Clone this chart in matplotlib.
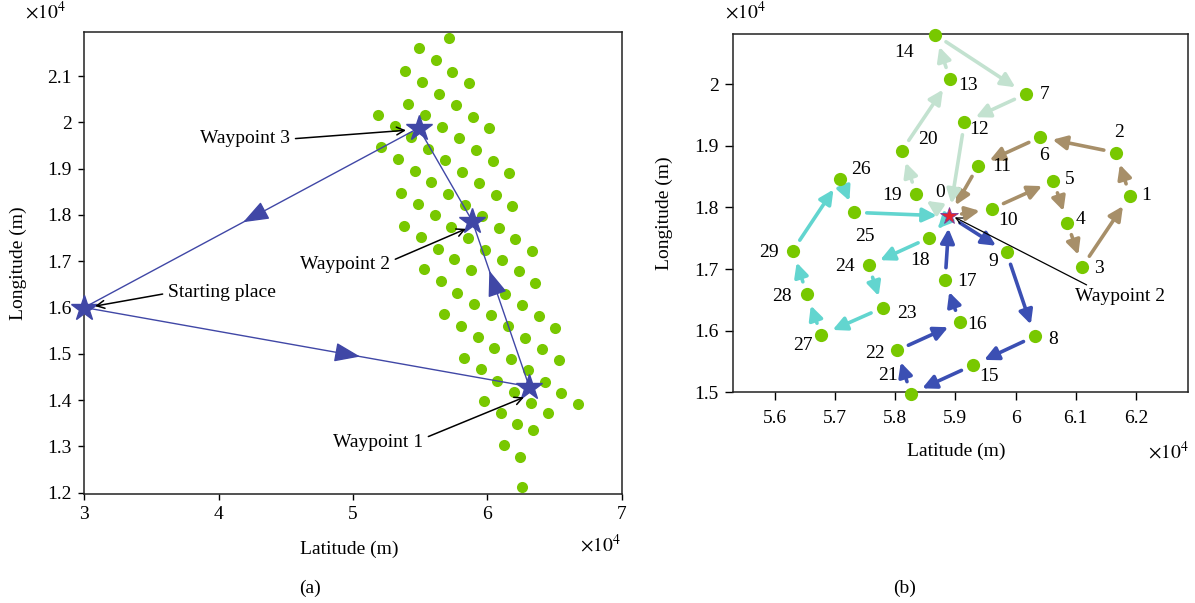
import matplotlib
matplotlib.use("Agg")
import matplotlib.pyplot as plt
import numpy as np
from matplotlib.ticker import FuncFormatter

plt.rcParams['font.family'] = ['Liberation Serif', 'DejaVu Serif']
plt.rcParams['mathtext.fontset'] = 'stix'
plt.rcParams['font.size'] = 14

# ---------- (a) candidate points, units of 1e4 m
grid_lat = [5.715, 5.489, 5.616, 5.387, 5.739, 5.514, 5.866, 5.638, 5.412, 5.764,
            5.184, 5.538, 5.891, 5.310, 5.662, 6.015, 5.434, 5.206, 5.560, 5.787,
            5.913, 5.333, 5.687, 6.040, 5.459, 5.811, 6.163, 5.583, 5.936, 5.355,
            5.709, 6.062, 5.482, 5.834, 6.186, 5.608, 5.960, 5.380, 5.732, 6.085,
            5.504, 5.856, 6.208, 5.630, 5.982, 6.335, 5.754, 6.107, 5.528, 5.881,
            6.233, 5.653, 6.357, 6.129, 5.776, 5.903, 6.256, 5.677, 6.029, 6.382,
            5.802, 6.154, 6.506, 5.928, 6.280, 6.052, 6.405, 5.826, 6.178, 6.531,
            5.951, 6.303, 6.074, 6.427, 6.198, 6.550, 5.975, 6.325, 6.677, 6.099,
            6.449, 6.223, 6.342, 6.122, 6.245, 6.260]
grid_lon = [2.183, 2.160, 2.135, 2.112, 2.109, 2.087, 2.085, 2.062, 2.040, 2.037,
            2.017, 2.015, 2.012, 1.993, 1.990, 1.988, 1.968, 1.946, 1.943, 1.966,
            1.941, 1.921, 1.918, 1.916, 1.896, 1.893, 1.890, 1.871, 1.869, 1.848,
            1.846, 1.844, 1.824, 1.822, 1.819, 1.800, 1.797, 1.777, 1.775, 1.772,
            1.753, 1.750, 1.748, 1.727, 1.725, 1.723, 1.704, 1.702, 1.683, 1.681,
            1.678, 1.657, 1.652, 1.630, 1.632, 1.608, 1.605, 1.586, 1.583, 1.581,
            1.561, 1.559, 1.556, 1.537, 1.534, 1.513, 1.510, 1.491, 1.488, 1.486,
            1.467, 1.464, 1.442, 1.439, 1.418, 1.415, 1.399, 1.393, 1.391, 1.372,
            1.372, 1.348, 1.336, 1.302, 1.277, 1.212]

# flight path: start -> waypoint 1 -> 2 -> 3 -> start
path_lat = [3.0, 6.312, 5.888, 5.489, 3.0]
path_lon = [1.600, 1.429, 1.787, 1.988, 1.600]
path_head_frac = [0.62, 0.70, None, 0.525]

# ---------- (b) numbered nodes, units of 1e4 m
node_lat = [5.890, 6.190, 6.167, 6.111, 6.086, 6.063, 6.041, 6.017, 6.032, 5.985,
            5.961, 5.938, 5.915, 5.891, 5.867, 5.929, 5.907, 5.883, 5.857, 5.835,
            5.811, 5.826, 5.803, 5.779, 5.756, 5.732, 5.709, 5.677, 5.653, 5.630]
node_lon = [1.786, 1.819, 1.889, 1.704, 1.775, 1.843, 1.914, 1.984, 1.591, 1.727,
            1.798, 1.868, 1.938, 2.008, 2.080, 1.544, 1.614, 1.682, 1.751, 1.822,
            1.892, 1.498, 1.568, 1.637, 1.706, 1.792, 1.846, 1.593, 1.660, 1.730]
routes = [[0, 10, 5, 4, 3, 1, 2, 6, 11, 0],
          [0, 19, 20, 13, 14, 7, 12, 0],
          [0, 9, 8, 15, 21, 22, 16, 17, 0],
          [0, 18, 24, 23, 27, 28, 29, 26, 25, 0]]
route_colors = ['#a78f69', '#c3e2d0', '#3b4fb3', '#62d5cf']

# label offsets (pixels) for node numbers
lab_off = [(-9, 24), (16, 0), (3, 20), (17, -2), (13, 3), (16, 1), (4, -18), (19, 0),
           (18, -3), (-13, -9), (16, -12), (23, -1), (15, -7), (18, -6), (-31, -18),
           (16, -11), (17, -2), (22, -1), (-9, -23), (-24, -2), (26, 11), (-23, 18),
           (-22, -3), (24, -6), (-24, -1), (11, -24), (21, 10), (-18, -10), (-25, -3),
           (-24, -2)]

green = '#78c800'
navy = '#4047a6'
fmt = FuncFormatter(lambda v, p: f'{v:g}')

fig = plt.figure(figsize=(11.95, 6.03), dpi=100)
ax1 = fig.add_axes([0.0705, 0.1808, 0.4497, 0.7666])
ax2 = fig.add_axes([0.6136, 0.3494, 0.3808, 0.5937])

for ax in (ax1, ax2):
    for s in ax.spines.values():
        s.set_color('#222222')
        s.set_linewidth(1.1)
    ax.tick_params(direction='out', length=4, width=1, pad=5, top=False, right=False,
                   labelsize=14)
    ax.xaxis.set_major_formatter(fmt)
    ax.yaxis.set_major_formatter(fmt)
ax2.tick_params(length=5.5)
ax2.tick_params(axis='x', pad=7)

# ---- panel (a)
ax1.plot(grid_lat, grid_lon, 'o', ms=8, color=green, mec='none', zorder=2)
ax1.plot(path_lat, path_lon, '-', color=navy, lw=1, zorder=3)
for i, f in enumerate(path_head_frac):
    if f is None:
        continue
    x0, y0 = path_lat[i], path_lon[i]
    x1, y1 = path_lat[i + 1], path_lon[i + 1]
    tip = (x0 + f * (x1 - x0), y0 + f * (y1 - y0))
    tail = (x0 + (f - 0.05) * (x1 - x0), y0 + (f - 0.05) * (y1 - y0))
    ax1.annotate('', xy=tip, xytext=tail,
                 arrowprops=dict(arrowstyle='-|>,head_length=0.8,head_width=0.3',
                                 color=navy, lw=1, mutation_scale=20,
                                 shrinkA=0, shrinkB=0), zorder=4)
ax1.plot(path_lat[:4], path_lon[:4], '*', ms=19, color=navy, mec=navy, zorder=5,
         clip_on=False)

ann_kw = dict(arrowstyle='->', color='black', lw=1.1, mutation_scale=14, shrinkA=2, shrinkB=0)
ax1.annotate('Waypoint 3', xy=(5.395, 1.983), xytext=(4.196, 1.966), ha='center',
             va='center', arrowprops=dict(relpos=(1.0, 0.45), **ann_kw), zorder=6)
ax1.annotate('Waypoint 2', xy=(5.841, 1.770), xytext=(4.940, 1.692), ha='center',
             va='center', arrowprops=dict(relpos=(1.0, 0.7), **ann_kw), zorder=6)
ax1.annotate('Starting place', xy=(3.080, 1.603), xytext=(4.026, 1.633), ha='center',
             va='center', arrowprops=dict(relpos=(0.0, 0.45), **ann_kw), zorder=6)
ax1.annotate('Waypoint 1', xy=(6.273, 1.406), xytext=(5.186, 1.309), ha='center',
             va='center', arrowprops=dict(relpos=(1.0, 0.7), **ann_kw), zorder=6)

ax1.set_xlim(3, 7)
ax1.set_ylim(1.197, 2.196)
ax1.set_xticks([3, 4, 5, 6, 7])
ax1.set_yticks(np.round(np.arange(1.2, 2.15, 0.1), 1))
ax1.set_xlabel('Latitude (m)', va='center')
ax1.xaxis.set_label_coords(0.4926, -0.119)
ax1.set_ylabel('Longitude (m)', va='center', ha='center')
ax1.yaxis.set_label_coords(-0.1234, 0.5)

# ---- panel (b)
for route, c in zip(routes, route_colors):
    for a, b in zip(route[:-1], route[1:]):
        ax2.annotate('', xy=(node_lat[b], node_lon[b]), xytext=(node_lat[a], node_lon[a]),
                     arrowprops=dict(arrowstyle='-|>,head_length=0.65,head_width=0.32',
                                     color=c, lw=2.6, mutation_scale=13,
                                     shrinkA=9, shrinkB=9),
                     annotation_clip=False, zorder=2)
ax2.plot(node_lat[1:], node_lon[1:], 'o', ms=9.5, color=green, mec='none', zorder=3,
         clip_on=False)
ax2.plot(node_lat[0], node_lon[0], '*', ms=13, mfc='#e3242f', mec='#7b3c9c', mew=0.6,
         zorder=4, clip_on=False)
for k in range(len(node_lat)):
    ax2.annotate(str(k), xy=(node_lat[k], node_lon[k]), xytext=lab_off[k],
                 textcoords='offset pixels', ha='center', va='center', fontsize=14,
                 annotation_clip=False, zorder=5)
ax2.annotate('Waypoint 2', xy=(5.899, 1.784), xytext=(6.174, 1.655), ha='center',
             va='center', arrowprops=dict(arrowstyle='->', color='black', lw=0.9,
                                          mutation_scale=11, shrinkA=1, shrinkB=0,
                                          relpos=(0.2, 1.0)), zorder=6)

ax2.set_xlim(5.531, 6.287)
ax2.set_ylim(1.5, 2.081)
ax2.set_xticks(np.round(np.arange(5.6, 6.25, 0.1), 1))
ax2.set_yticks(np.round(np.arange(1.5, 2.05, 0.1), 1))
ax2.set_xlabel('Latitude (m)', va='center')
ax2.xaxis.set_label_coords(0.4895, -0.164)
ax2.set_ylabel('Longitude (m)', va='center', ha='center')
ax2.yaxis.set_label_coords(-0.152, 0.5)

# multipliers and captions
fig.text(0.0377, 0.980, r'$\times10^4$', ha='center', va='center', fontsize=14)
fig.text(0.5021, 0.0962, r'$\times10^4$', ha='center', va='center', fontsize=14)
fig.text(0.6234, 0.980, r'$\times10^4$', ha='center', va='center', fontsize=14)
fig.text(0.9775, 0.251, r'$\times10^4$', ha='center', va='center', fontsize=14)
fig.text(0.2594, 0.025, '(a)', ha='center', va='center', fontsize=14)
fig.text(0.7573, 0.025, '(b)', ha='center', va='center', fontsize=14)

fig.savefig('out.png', dpi=100)
